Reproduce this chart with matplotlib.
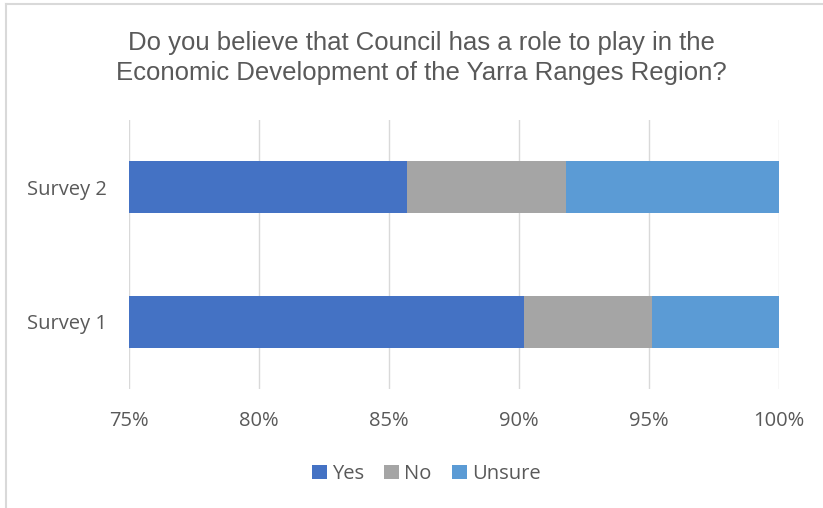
import matplotlib
matplotlib.use("Agg")
import matplotlib.pyplot as plt
from matplotlib.ticker import FuncFormatter
from matplotlib.lines import Line2D

categories = ["Survey 1", "Survey 2"]
yes = [90.2, 85.7]
no = [4.9, 6.1]
unsure = [4.9, 8.2]
x_ticks = [75, 80, 85, 90, 95, 100]

TEXT = "#595959"
BASE = "Open Sans"

fig = plt.figure(figsize=(8.23, 5.08), dpi=100)
ax = fig.add_axes([0.1567, 0.2343, 0.7898, 0.5295])

pos = list(range(len(categories)))
h = 0.39
ax.barh(pos, yes, height=h, color="#4472C4", label="Yes", zorder=3)
left2 = yes
ax.barh(pos, no, left=left2, height=h, color="#A5A5A5", label="No", zorder=3)
left3 = [a + b for a, b in zip(yes, no)]
ax.barh(pos, unsure, left=left3, height=h, color="#5B9BD5", label="Unsure", zorder=3)

ax.set_xlim(75, 100)
ax.set_ylim(-0.5, 1.5)
ax.set_xticks(x_ticks)
ax.xaxis.set_major_formatter(FuncFormatter(lambda v, _: f"{v:.0f}%"))
ax.set_yticks(pos)
ax.set_yticklabels(categories)
ax.grid(axis="x", color="#D9D9D9", linewidth=1, zorder=0)
for s in ax.spines.values():
    s.set_visible(False)
ax.tick_params(length=0, colors=TEXT, labelsize=14.5)
ax.tick_params(axis="x", pad=16)
ax.tick_params(axis="y", pad=16)
for lab in ax.get_xticklabels() + ax.get_yticklabels():
    lab.set_fontfamily(BASE)

fig.text(0.5115, 0.886, "Do you believe that Council has a role to play in the\n"
         "Economic Development of the Yarra Ranges Region?",
         ha="center", va="center", fontsize=18.5, color=TEXT,
         family="Liberation Sans", linespacing=1.3)

leg = fig.legend(loc="center", bbox_to_anchor=(0.518, 0.067), ncol=3, frameon=False,
                 prop={"family": BASE, "size": 14.5}, handlelength=0.75, handleheight=0.75,
                 handletextpad=0.25, columnspacing=1.0, labelcolor=TEXT)

# chart frame (left and top edges visible)
fig.add_artist(Line2D([0.007, 0.007], [0, 0.992], color="#D9D9D9", linewidth=1.5,
                      transform=fig.transFigure))
fig.add_artist(Line2D([0.007, 1.0], [0.992, 0.992], color="#D9D9D9", linewidth=1.5,
                      transform=fig.transFigure))

fig.savefig("out.png", dpi=100)
